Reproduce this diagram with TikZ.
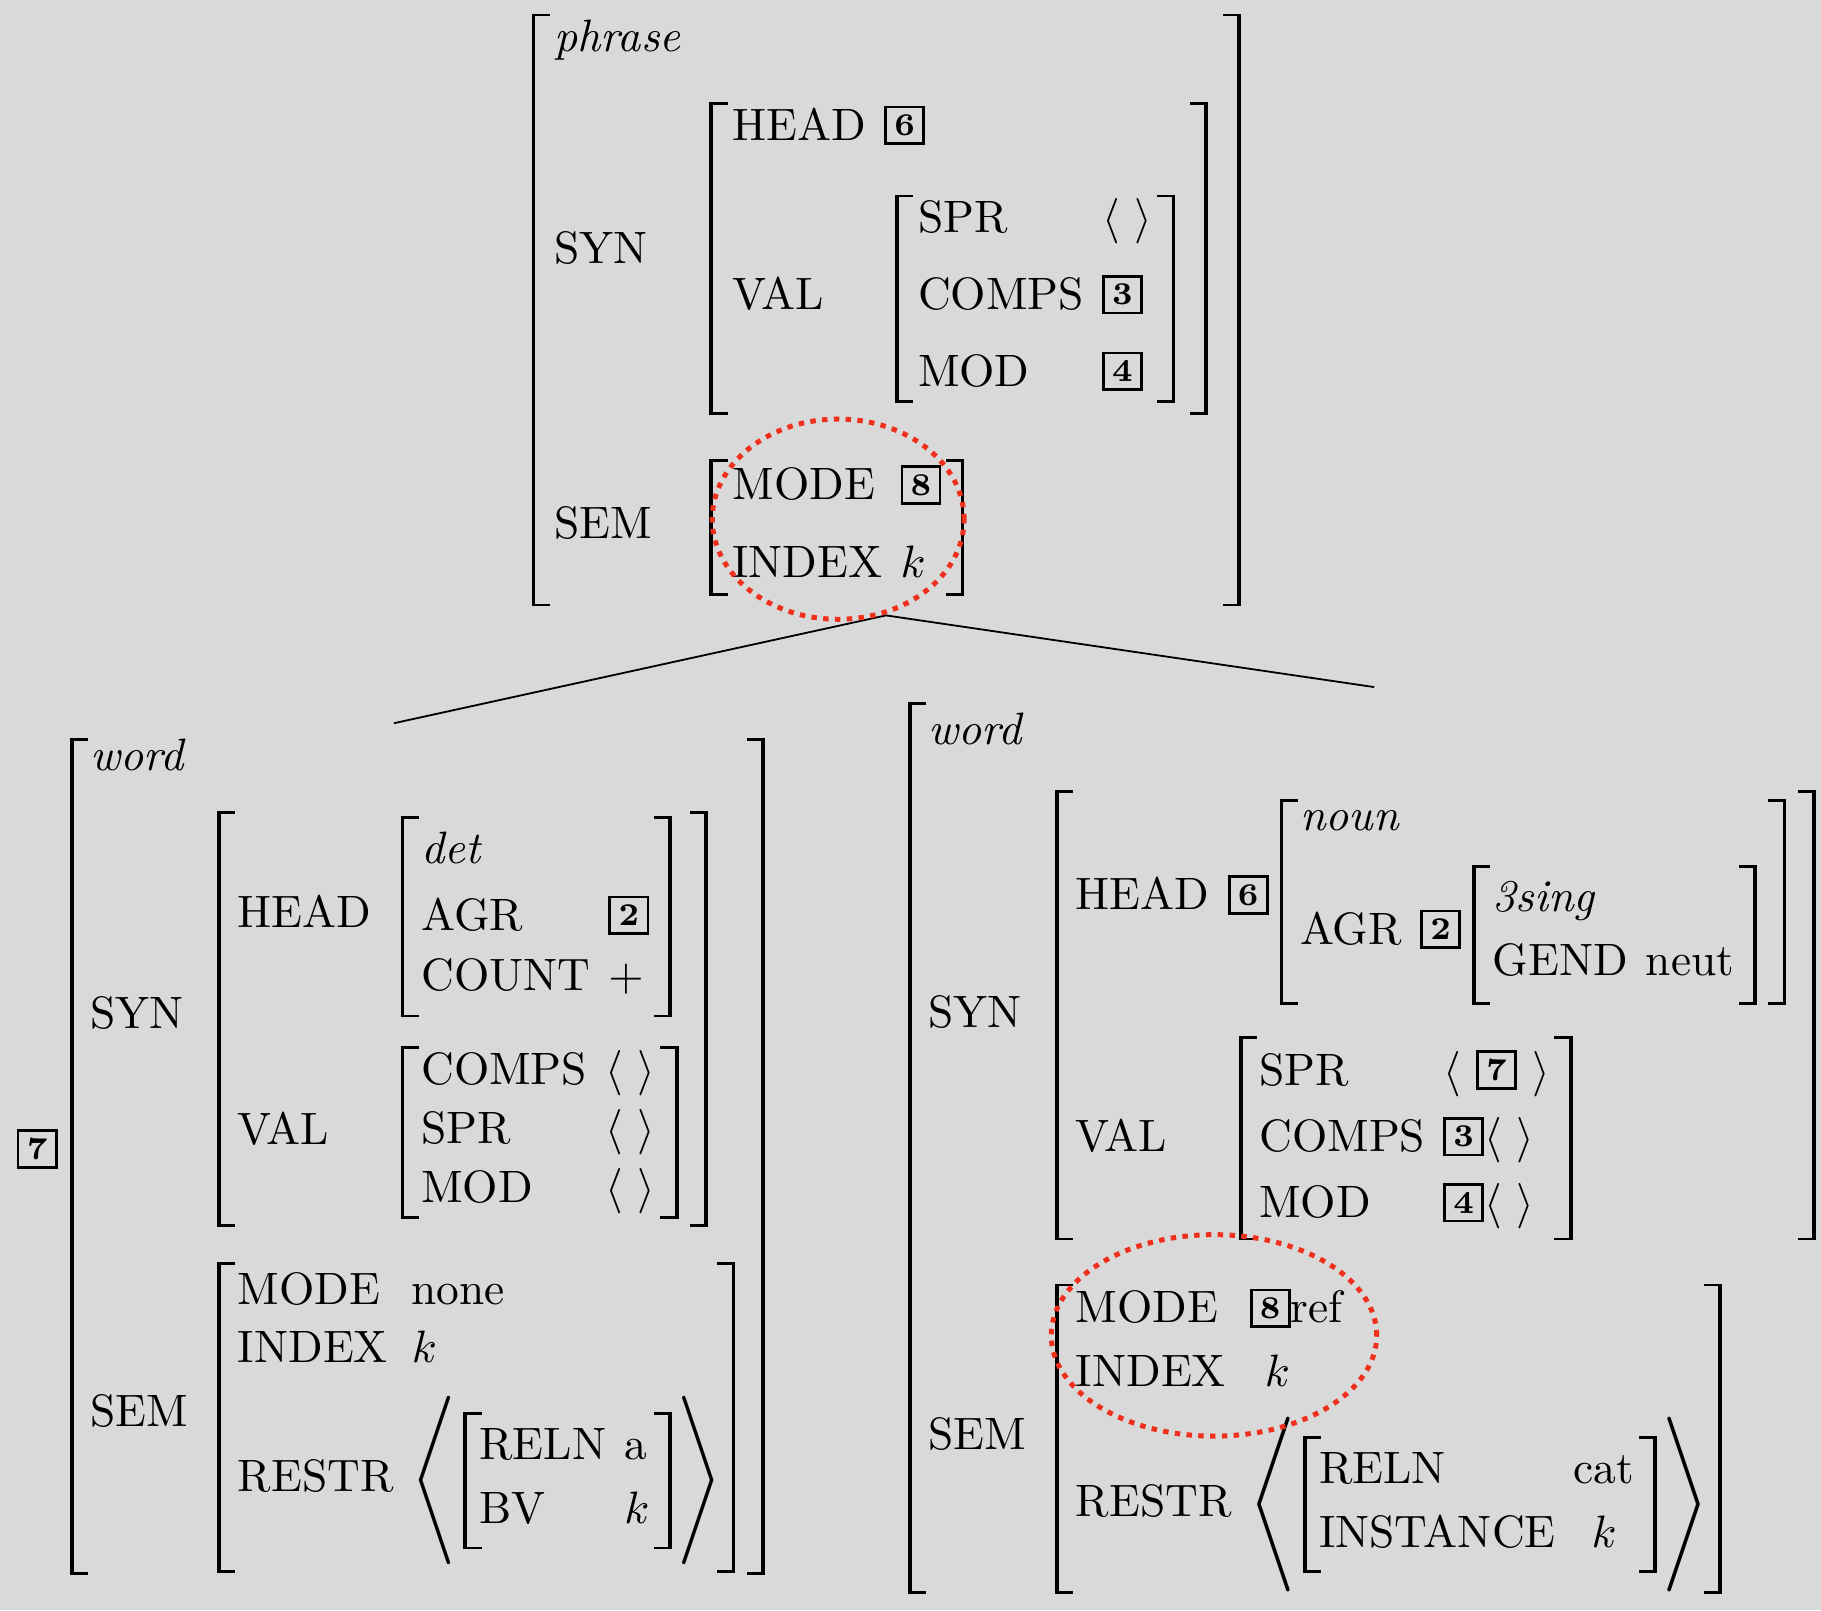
\documentclass[tikz,border=0pt]{standalone}
\usepackage{amsmath}
\usetikzlibrary{shapes.geometric}
\definecolor{bggray}{RGB}{217,217,217}
\definecolor{markred}{RGB}{238,48,28}
\newlength{\avmsep}\setlength{\avmsep}{4pt}
\newlength{\avmstem}\setlength{\avmstem}{0.85pt}
\newlength{\avmserif}\setlength{\avmserif}{4pt}
\newlength{\avmserifw}\setlength{\avmserifw}{0.6pt}
\newlength{\avmkernL}\setlength{\avmkernL}{3.7pt}
\newlength{\avmbearR}\setlength{\avmbearR}{1.4pt}
\newlength{\avmH}\newlength{\avmD}
\newsavebox{\avmcontent}
\newcommand{\avmstemrule}{\rule[-\avmD]{\avmstem}{\dimexpr\avmH+\avmD\relax}}
\newcommand{\avmtop}{\rule[\dimexpr\avmH-\avmserifw\relax]{\avmserif}{\avmserifw}}
\newcommand{\avmbot}{\rule[-\avmD]{\avmserif}{\avmserifw}}
\NewDocumentCommand{\avm}{O{1pt} O{#1} m}{\mbox{%
  \sbox{\avmcontent}{$\begin{array}{@{}l@{\hspace{\avmsep}}l@{}}#3\end{array}$}%
  \setlength{\avmH}{\dimexpr\ht\avmcontent+#1\relax}%
  \setlength{\avmD}{\dimexpr\dp\avmcontent+#2\relax}%
  \kern2.4pt\rlap{\avmtop}\rlap{\avmbot}\avmstemrule\kern\avmkernL
  \usebox{\avmcontent}%
  \kern4.2pt\avmstemrule\llap{\avmtop}\llap{\avmbot}\kern\avmbearR}}
\newcommand{\avmlist}[2][3.4pt]{\mbox{%
  \sbox{\avmcontent}{#2}%
  \setlength{\avmH}{\dimexpr\ht\avmcontent+#1\relax}%
  \setlength{\avmD}{\dimexpr\dp\avmcontent+#1\relax}%
  \raisebox{-\avmD}{\resizebox*{!}{\dimexpr\avmH+\avmD\relax}{\raisebox{\depth}{$\Bigg\langle$}}}%
  \kern-1pt\usebox{\avmcontent}\kern-0.5pt
  \raisebox{-\avmD}{\resizebox*{!}{\dimexpr\avmH+\avmD\relax}{\raisebox{\depth}{$\Bigg\rangle$}}}\kern-2pt}}
\newcommand{\avmskip}[1]{\\\noalign{\vskip#1}}
\newcommand{\tagbox}[1]{\raisebox{1pt}{\setlength{\fboxsep}{1.4pt}\setlength{\fboxrule}{0.6pt}\fbox{\makebox[5pt]{\scriptsize\bfseries #1}}}}
\newcommand{\att}[1]{\text{#1}}
\newcommand{\typ}[1]{\text{\itshape #1}}
\newcommand{\elist}{\langle\ \rangle}
\begin{document}
\begin{tikzpicture}[focus/.style={ellipse, draw=markred, line width=1.1pt, dash pattern=on 1.2pt off 1.4pt}]
\useasboundingbox (0,0) rectangle (14.10,-12.47);
\clip (0,0) rectangle (14.10,-12.47);
\fill[bggray] (0,0) rectangle (14.10,-12.47);
\node[anchor=south, inner sep=1.8pt] (phrase) at (6.86,-4.765) {\setlength{\avmbearR}{2.2pt}\setlength{\avmkernL}{4.2pt}\avm[0pt][2.3pt]{
  \typ{phrase} \avmskip{7.5pt}
  \att{SYN} & \avm[0pt][2.8pt]{\att{HEAD} & \tagbox{6} \avmskip{8.4pt}
    \att{VAL} & \avm[0pt]{\att{SPR} & \elist \avmskip{4.9pt} \att{COMPS} & \tagbox{3} \avmskip{4.9pt} \att{MOD} & \tagbox{4}}} \avmskip{9.7pt}
  \att{SEM} & \avm[0.5pt]{\att{MODE} & \tagbox{8} \avmskip{5.1pt} \att{INDEX} & k}}};
\node[anchor=north, inner sep=1.8pt] (det) at (3.05,-5.60) {\tagbox{7}\kern0.3pt\avm[-1.3pt][0.5pt]{
  \typ{word} \avmskip{5.4pt}
  \att{SYN} & \avm[1pt][1.8pt]{\att{HEAD} & \avm[2.2pt][2.3pt]{\typ{det} \avmskip{2.6pt} \att{AGR} & \tagbox{2} \avmskip{1.3pt} \att{COUNT} & +} \avmskip{6.4pt}
    \att{VAL} & \avm[0pt]{\att{COMPS} & \elist \avmskip{1pt} \att{SPR} & \elist \avmskip{1pt} \att{MOD} & \elist}} \avmskip{7.7pt}
  \att{SEM} & \avm[0.9pt][1.8pt]{\att{MODE} & \att{none} \avmskip{0.8pt} \att{INDEX} & k \avmskip{3.9pt}
    \att{RESTR} & \avmlist[3.4pt]{\setlength{\avmkernL}{2.7pt}\avm[2pt]{\att{RELN} & \att{a} \avmskip{2.3pt} \att{BV} & k}}}}};
\node[anchor=north, inner sep=3.1pt] (noun) at (10.64,-5.32) {\avm[1pt][0pt]{
  \typ{word} \avmskip{6.4pt}
  \att{SYN} & \avm[0.5pt][0pt]{\att{HEAD} & \tagbox{6}\avm[-1.5pt][0pt]{\typ{noun} \avmskip{4pt}
      \att{AGR} & \tagbox{2}\avm[1.9pt][2.8pt]{\typ{3sing} \avmskip{2.1pt} \att{GEND} & \att{neut}}} \avmskip{6.9pt}
    \att{VAL} & \avm[2.4pt][1.4pt]{\att{SPR} & \langle\ \tagbox{7}\ \rangle \avmskip{2.6pt} \att{COMPS} & \tagbox{3}\elist \avmskip{2.6pt} \att{MOD} & \tagbox{4}\elist}} \avmskip{9.5pt}
  \att{SEM} & \avm[0.3pt]{\att{MODE} & \tagbox{8}\att{ref} \avmskip{2.1pt} \att{INDEX} & \ k \avmskip{3.1pt}
    \att{RESTR} & \avmlist[4.2pt]{\setlength{\avmkernL}{2.7pt}\avm[2pt]{\att{RELN} & \hfil\att{cat} \avmskip{2.1pt} \att{INSTANCE} & \hfil k}}}}};
\draw (phrase.south) -- (det.north);
\draw (phrase.south) -- (noun.north);
\node[focus, minimum width=1.95cm, minimum height=1.55cm] (topfocus) at (6.49,-4.02) {};
\node[focus, minimum width=2.52cm, minimum height=1.56cm] (nounfocus) at (9.40,-10.34) {};
\end{tikzpicture}
\end{document}
